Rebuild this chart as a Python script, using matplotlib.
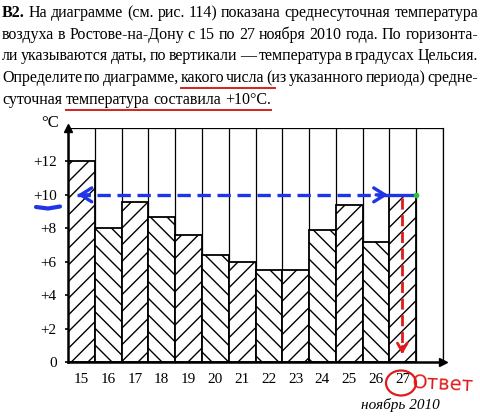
import matplotlib.pyplot as plt
from matplotlib.patches import Ellipse
from matplotlib.lines import Line2D

plt.rcParams['font.family'] = ['Liberation Serif', 'DejaVu Serif']
plt.rcParams['hatch.linewidth'] = 1.0

# data
days = [15, 16, 17, 18, 19, 20, 21, 22, 23, 24, 25, 26, 27]
temps = [12.0, 8.0, 9.6, 8.7, 7.6, 6.4, 6.0, 5.5, 5.5, 7.9, 9.4, 7.2, 10.0]
yticks = [0, 2, 4, 6, 8, 10, 12]
ylabels = ['0', '+2', '+4', '+6', '+8', '+10', '+12']
answer_day = 27
answer_temp = 10

question = [
    'B2. На диаграмме (см. рис. 114) показана среднесуточная температура',
    'воздуха в Ростове-на-Дону с 15 по 27 ноября 2010 года. По горизонта-',
    'ли указываются даты, по вертикали — температура в градусах Цельсия.',
    'Определите по диаграмме, какого числа (из указанного периода) средне-',
    'суточная температура составила +10°C.',
]

fig = plt.figure(figsize=(4.8, 4.2), dpi=100)
r = fig.canvas.get_renderer()

# question text, justified line by line
line_words = []
for k, line in enumerate(question):
    y = 1 - (13 + k * 21.7) / 420
    words = line.split(' ')
    texts = []
    for j, w in enumerate(words):
        bold = (k == 0 and j == 0)
        texts.append(fig.text(0, y, w, fontsize=11.5, va='center',
                              fontweight='bold' if bold else 'normal'))
    widths = [t.get_window_extent(r).width / fig.bbox.width for t in texts]
    x0, x1 = 0.004, 0.996
    if k == len(question) - 1:
        gap = 4 / 480
    else:
        gap = (x1 - x0 - sum(widths)) / (len(words) - 1)
    x = x0
    for t, w in zip(texts, widths):
        t.set_x(x)
        x += w + gap
    line_words.append(texts)

# red underlines in the text
def underline(texts, dy, extra=0):
    fig.canvas.draw()
    b0 = texts[0].get_window_extent(r)
    b1 = texts[-1].get_window_extent(r)
    yy = (b0.y0 - dy) / fig.bbox.height
    fig.add_artist(Line2D([b0.x0 / fig.bbox.width, (b1.x1 + extra) / fig.bbox.width],
                          [yy, yy], color='#d62020', lw=1.4))

underline(line_words[3][3:5], 2, extra=10)
underline(line_words[4][1:], 2)

ax = fig.add_axes([68 / 480, 58 / 420, 375 / 480, 234 / 420])
x = [i + 0.5 for i in range(len(days))]
for i, (xi, t) in enumerate(zip(x, temps)):
    ax.bar(xi, t, width=1.0, color='white', edgecolor='black', lw=1.3,
           hatch='//' if i % 2 == 0 else '\\\\', zorder=3)

ax.set_xlim(0, len(days) + 1)
ax.set_ylim(0, 14)
ax.set_xticks(x)
ax.set_xticklabels([str(d) for d in days], fontsize=11)
ax.set_xticks(range(len(days) + 2), minor=True)
ax.set_yticks(yticks)
ax.set_yticklabels(ylabels, fontsize=11)
ax.set_yticks(range(0, 15, 2), minor=True)
ax.tick_params(axis='x', which='major', length=0, pad=8)
ax.tick_params(axis='x', which='minor', length=0)
ax.tick_params(axis='y', which='major', length=4, direction='inout', width=1.2, pad=6)
ax.tick_params(axis='y', which='minor', length=0)
ax.grid(True, which='minor', color='black', lw=0.9, zorder=0)
ax.axvline(len(days) + 1, color='black', lw=0.9, clip_on=False, zorder=0)
for s in ['top', 'right']:
    ax.spines[s].set_visible(False)
for s in ['left', 'bottom']:
    ax.spines[s].set_linewidth(1.8)
    ax.spines[s].set_zorder(4)
ax.plot(0, 1, '^', color='black', ms=6, transform=ax.transAxes, clip_on=False)
ax.plot(1, 0, '>', color='black', ms=6, transform=ax.transAxes, clip_on=False)

fig.text(50 / 480, 1 - 123 / 420, '°C', fontsize=12, ha='center', va='center')
fig.text(400 / 480, 1 - 405 / 420, 'ноябрь 2010', fontsize=11, style='italic',
         ha='center', va='center')

# hand-drawn answer marks
blue = '#1f35e6'
red = '#e01b1b'
ia = days.index(answer_day)
ax.plot([0.35, ia], [answer_temp, answer_temp], color=blue, lw=2.4,
        ls=(0, (4, 2)), zorder=5, clip_on=False)
ax.plot([ia, ia + 0.9], [answer_temp, answer_temp], color=blue, lw=2.4, zorder=5)
ax.annotate('', xy=(0.25, answer_temp), xytext=(0.9, answer_temp),
            arrowprops=dict(arrowstyle='->, head_length=0.8, head_width=0.5',
                            color=blue, lw=2.4), zorder=6)
ax.annotate('', xy=(ia + 0.05, answer_temp), xytext=(ia - 0.6, answer_temp),
            arrowprops=dict(arrowstyle='->, head_length=0.8, head_width=0.5',
                            color=blue, lw=2.4), zorder=6)
ax.plot(ia + 1, answer_temp, 'o', color='#30c030', ms=3, zorder=7)
ax.plot([ia + 0.48, ia + 0.48], [answer_temp - 0.2, 0.6], color=red, lw=2,
        ls=(0, (4, 2)), zorder=5)
ax.annotate('', xy=(ia + 0.48, 0.3), xytext=(ia + 0.48, 1.1),
            arrowprops=dict(arrowstyle='->, head_length=0.6, head_width=0.35',
                            color=red, lw=2), zorder=6)

fig.add_artist(Line2D([36 / 480, 48 / 480, 60 / 480],
                      [1 - 207 / 420, 1 - 208.5 / 420, 1 - 206.5 / 420],
                      color=blue, lw=3, solid_capstyle='round'))
fig.add_artist(Ellipse((401 / 480, 1 - 383 / 420), 30 / 480, 25 / 420,
                       fill=False, color=red, lw=1.6))
fig.text(443 / 480, 1 - 384 / 420, 'Ответ', color=red, fontsize=14,
         family='DejaVu Sans', ha='center', va='center', rotation=-3)

fig.savefig('out.png', dpi=100)
